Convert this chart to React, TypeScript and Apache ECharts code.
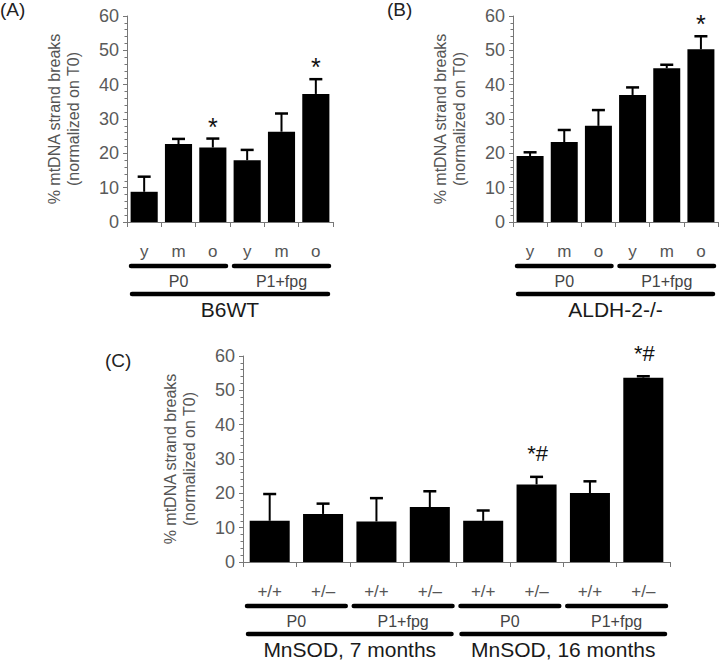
import React, { useEffect, useRef } from 'react';
import * as echarts from 'echarts';

// ---------- data ----------
const catLabelsAB = ['y', 'm', 'o', 'y', 'm', 'o'];
const catLabelsC = ['+/+', '+/\u2013', '+/+', '+/\u2013', '+/+', '+/\u2013', '+/+', '+/\u2013'];

const valuesA = [8.8, 22.7, 21.7, 18.0, 26.3, 37.3];
const errorsA = [4.4, 1.5, 2.6, 3.0, 5.3, 4.3];
const annotA = ['', '', '*', '', '', '*'];

const valuesB = [19.2, 23.3, 28.0, 37.0, 44.8, 50.3];
const errorsB = [1.1, 3.5, 4.6, 2.2, 1.0, 3.8];
const annotB = ['', '', '', '', '', '*'];

const valuesC = [12.0, 14.0, 11.8, 16.0, 12.0, 22.6, 20.1, 53.7];
const errorsC = [7.8, 3.0, 6.8, 4.6, 3.0, 2.2, 3.4, 0.4];
const annotC = ['', '', '', '', '', '*#', '', '*#'];

const subGroupsA = [{ from: 0, to: 2, label: 'P0' }, { from: 3, to: 5, label: 'P1+fpg' }];
const mainGroupsA = [{ from: 0, to: 5, label: 'B6WT' }];
const subGroupsB = [{ from: 0, to: 2, label: 'P0' }, { from: 3, to: 5, label: 'P1+fpg' }];
const mainGroupsB = [{ from: 0, to: 5, label: 'ALDH-2-/-' }];
const subGroupsC = [
  { from: 0, to: 1, label: 'P0' },
  { from: 2, to: 3, label: 'P1+fpg' },
  { from: 4, to: 5, label: 'P0' },
  { from: 6, to: 7, label: 'P1+fpg' },
];
const mainGroupsC = [
  { from: 0, to: 3, label: 'MnSOD, 7 months' },
  { from: 4, to: 7, label: 'MnSOD, 16 months' },
];

const yTitle = '% mtDNA strand breaks\n(normalized on T0)';
const FONT = '"Liberation Sans", Arial, Helvetica, sans-serif';

function makeAxes(idx: number, labels: string[]) {
  const xAxis = {
    type: 'category',
    gridIndex: idx,
    data: labels.map((l, i) => l + '#' + i),
    axisLine: { lineStyle: { color: '#777', width: 1 } },
    axisTick: { show: true, length: 5, lineStyle: { color: '#777' } },
    axisLabel: {
      interval: 0,
      margin: 21,
      fontSize: 17,
      color: '#555',
      fontFamily: FONT,
      formatter: (_v: string, i: number) => labels[i],
    },
    splitLine: { show: false },
  };
  const yAxis = {
    type: 'value',
    gridIndex: idx,
    min: 0,
    max: 60,
    interval: 10,
    name: yTitle,
    nameLocation: 'middle',
    nameRotate: 90,
    nameGap: 44,
    nameTextStyle: { fontSize: 16, color: '#555', fontFamily: FONT, lineHeight: 19 },
    axisLine: { show: true, lineStyle: { color: '#777', width: 1 } },
    axisTick: { show: true, length: 4, lineStyle: { color: '#777' } },
    minorTick: { show: true, splitNumber: 5, length: 2.5, lineStyle: { color: '#777' } },
    axisLabel: { fontSize: 18, color: '#5a5a5a', fontFamily: FONT, margin: 8 },
    splitLine: { show: false },
    minorSplitLine: { show: false },
  };
  return { xAxis, yAxis };
}

function makeSeries(
  idx: number,
  values: number[],
  errors: number[],
  annots: string[],
  subGroups: { from: number; to: number; label: string }[],
  mainGroups: { from: number; to: number; label: string }[],
  gap: string
) {
  const bar = {
    type: 'bar',
    xAxisIndex: idx,
    yAxisIndex: idx,
    data: values,
    barCategoryGap: gap,
    itemStyle: { color: '#000' },
    silent: true,
  };
  const err = {
    type: 'custom',
    xAxisIndex: idx,
    yAxisIndex: idx,
    data: values.map((v, i) => [i, v, v + errors[i]]),
    encode: { x: 0, y: [1, 2] },
    z: 5,
    renderItem: (params: any, api: any) => {
      const i = api.value(0);
      const lo = api.coord([i, api.value(1)]);
      const hi = api.coord([i, api.value(2)]);
      const hw = 6.5;
      const children: any[] = [
        { type: 'line', shape: { x1: lo[0], y1: lo[1], x2: hi[0], y2: hi[1] }, style: { stroke: '#000', lineWidth: 2 } },
        { type: 'line', shape: { x1: hi[0] - hw, y1: hi[1], x2: hi[0] + hw, y2: hi[1] }, style: { stroke: '#000', lineWidth: 2.5 } },
      ];
      const a = annots[params.dataIndex];
      if (a) {
        const multi = a.length > 1;
        children.push({
          type: 'text',
          style: {
            text: a,
            x: hi[0] + (multi ? 1 : 0),
            y: hi[1] - (multi ? 23 : 12),
            fill: '#111',
            fontSize: multi ? 22 : 25,
            fontFamily: FONT,
            align: 'center',
            verticalAlign: 'middle',
          },
        });
      }
      return { type: 'group', children };
    },
  };
  const groups = [
    ...subGroups.map((g) => ({ ...g, level: 0 })),
    ...mainGroups.map((g) => ({ ...g, level: 1 })),
  ];
  const brackets = {
    type: 'custom',
    xAxisIndex: idx,
    yAxisIndex: idx,
    data: groups.map((g) => [g.from, 0]),
    encode: { x: 0, y: 1 },
    clip: false,
    renderItem: (params: any, api: any) => {
      const g = groups[params.dataIndex];
      const bw = api.size([1, 0])[0];
      const y0 = api.coord([0, 0])[1];
      const inset = g.level === 0 ? 4 : 5;
      const x1 = api.coord([g.from, 0])[0] - bw / 2 + inset;
      const x2 = api.coord([g.to, 0])[0] + bw / 2 - inset;
      const ly = y0 + (g.level === 0 ? 44 : 72);
      const ty = y0 + (g.level === 0 ? 59 : 87);
      return {
        type: 'group',
        children: [
          { type: 'line', shape: { x1, y1: ly, x2, y2: ly }, style: { stroke: '#000', lineWidth: 4.5, lineCap: 'round' } },
          {
            type: 'text',
            style: {
              text: g.label,
              x: (x1 + x2) / 2,
              y: ty,
              fill: g.level === 0 ? '#444' : '#1a1a1a',
              fontSize: g.level === 0 ? 16 : 21,
              fontFamily: FONT,
              align: 'center',
              verticalAlign: 'middle',
            },
          },
        ],
      };
    },
  };
  return [bar, err, brackets];
}

export default function App() {
  const ref = useRef<HTMLDivElement>(null);
  useEffect(() => {
    if (!ref.current) return;
    const chart = echarts.init(ref.current, null, { renderer: 'svg' });
    const a = makeAxes(0, catLabelsAB);
    const b = makeAxes(1, catLabelsAB);
    const c = makeAxes(2, catLabelsC);
    chart.setOption({
      animation: false,
      backgroundColor: '#fff',
      textStyle: { fontFamily: FONT },
      grid: [
        { left: 127, top: 16, width: 206, height: 206 },
        { left: 513, top: 16, width: 205, height: 206 },
        { left: 243, top: 356, width: 427, height: 206 },
      ],
      xAxis: [a.xAxis, b.xAxis, c.xAxis],
      yAxis: [a.yAxis, b.yAxis, c.yAxis],
      series: [
        ...makeSeries(0, valuesA, errorsA, annotA, subGroupsA, mainGroupsA, '21%'),
        ...makeSeries(1, valuesB, errorsB, annotB, subGroupsB, mainGroupsB, '21%'),
        ...makeSeries(2, valuesC, errorsC, annotC, subGroupsC, mainGroupsC, '25%'),
      ],
      graphic: [
        { type: 'text', left: 0, top: 0, style: { text: '(A)', fontSize: 19, fill: '#222', fontFamily: FONT } },
        { type: 'text', left: 387, top: 0, style: { text: '(B)', fontSize: 19, fill: '#222', fontFamily: FONT } },
        { type: 'text', left: 105, top: 351, style: { text: '(C)', fontSize: 19, fill: '#222', fontFamily: FONT } },
      ],
    });
    return () => chart.dispose();
  }, []);
  return (
    <div
      ref={ref}
      style={{ position: 'fixed', left: 0, top: 0, width: 720, height: 660, background: '#fff' }}
    />
  );
}
